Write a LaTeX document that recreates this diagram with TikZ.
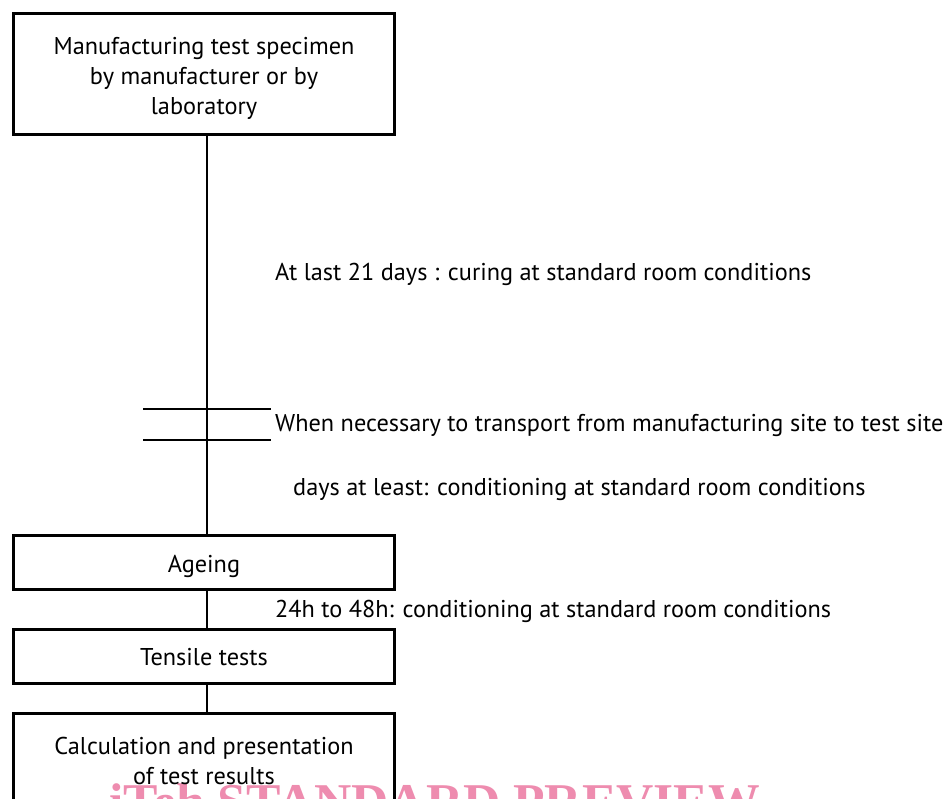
\documentclass[tikz,border=0pt]{standalone}
\usepackage{fontspec}
\setmainfont{PT Sans}
\newfontfamily\wmfont{Liberation Serif}
\definecolor{wmpink}{RGB}{238,140,175}
\begin{document}
\begin{tikzpicture}[x=1pt,y=-1pt,
  txt/.style={font=\fontsize{24.3}{30}\selectfont},
  box/.style={draw, line width=3pt, minimum width=381pt, inner sep=0pt},
  btxt/.style={inner sep=0pt, align=center, txt},
  lab/.style={anchor=base west, inner sep=0pt, txt},
  conn/.style={line width=1.5pt},
  wm/.style={anchor=base west, inner sep=0pt, text=wmpink, font=\wmfont\bfseries\fontsize{51.6}{50}\selectfont}]
\useasboundingbox (0,0) rectangle (946,799);
% watermark (cut off by the page edge)
\node[wm] (wmark) at (109,819) {iTeh STANDARD PREVIEW};
% boxes
\node[box, minimum height=121pt,
  label={[btxt,yshift=-4.5pt]center:{Manufacturing test specimen\\by manufacturer or by\\laboratory}}] (b1) at (204,74) {};
\node[box, minimum height=54pt,
  label={[btxt,yshift=-3.5pt]center:{Ageing}}] (b2) at (204,562.8) {};
\node[box, minimum height=54pt,
  label={[btxt,yshift=-1.5pt]center:{Tensile tests}}] (b3) at (204,656) {};
\node[box, minimum height=95.4pt,
  label={[btxt]center:{Calculation and presentation\\of test results}}] (b4) at (204,761) {};
% connectors
\draw[conn] ([xshift=3pt]b1.south) -- ([xshift=3pt]b2.north);
\draw[conn] ([xshift=3pt]b2.south) -- ([xshift=3pt]b3.north);
\draw[conn] ([xshift=3pt]b3.south) -- ([xshift=3pt]b4.north);
% transport ticks
\coordinate (t1a) at (143,409); \coordinate (t1b) at (271,409);
\coordinate (t2a) at (143,440); \coordinate (t2b) at (271,440);
\draw[conn] (t1a) -- (t1b);
\draw[conn] (t2a) -- (t2b);
% labels
\node[lab] (l1) at (275,281) {At last 21 days : curing at standard room conditions};
\node[lab] (l2) at (275,432) {When necessary to transport from manufacturing site to test site};
\node[lab] (l3) at (293,496) {days at least: conditioning at standard room conditions};
\node[lab] (l4) at (275,617) {24h to 48h: conditioning at standard room conditions};
\end{tikzpicture}
\end{document}
